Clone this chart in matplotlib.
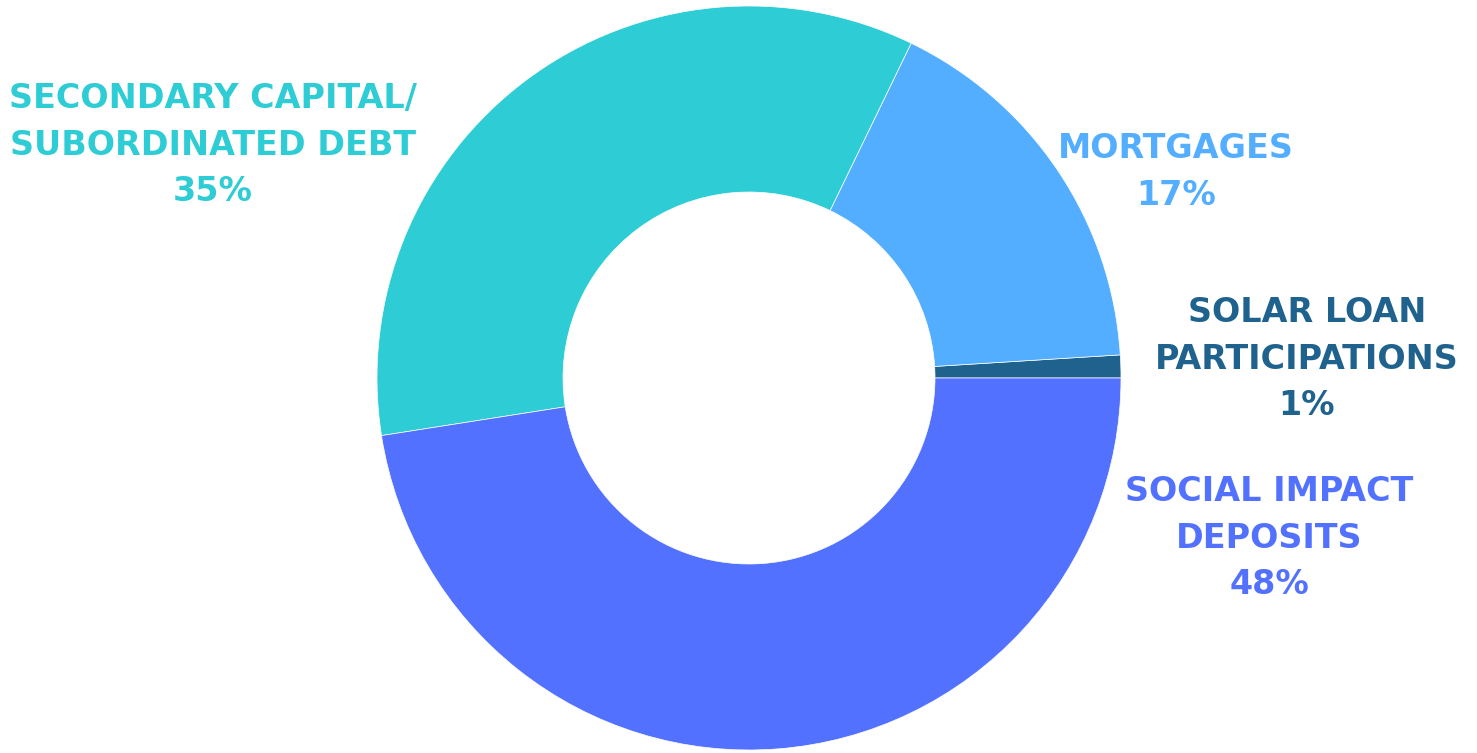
import matplotlib
matplotlib.use('Agg')
import matplotlib.pyplot as plt

# slice data (counter-clockwise from 3 o'clock)
labels = ['SOLAR LOAN\nPARTICIPATIONS', 'MORTGAGES',
          'SECONDARY CAPITAL/\nSUBORDINATED DEBT', 'SOCIAL IMPACT\nDEPOSITS']
values = [1, 17, 35, 48]
colors = ['#1F628E', '#54AEFF', '#2ECCD4', '#5271FF']

# label anchor positions in pixels (x, y from top)
label_pos = [(1307, 359), (1176, 172), (213, 145), (1269, 538)]

W, H = 1477, 753
fig = plt.figure(figsize=(W / 100, H / 100), dpi=100)
ax = fig.add_axes([0, 0, 1, 1])

ax.pie(values, colors=colors, startangle=0, counterclock=True,
       center=(749, H - 378), radius=372, frame=True,
       wedgeprops=dict(width=186, edgecolor='white', linewidth=0.5))
ax.set_xlim(0, W)
ax.set_ylim(0, H)
ax.axis('off')

for lab, v, c, (x, y) in zip(labels, values, colors, label_pos):
    ax.text(x, H - y, f'{lab}\n{v}%', color=c, ha='center', va='center',
            fontsize=24, fontweight='bold', family='DejaVu Sans',
            linespacing=1.53)

fig.savefig('out.png', dpi=100)
